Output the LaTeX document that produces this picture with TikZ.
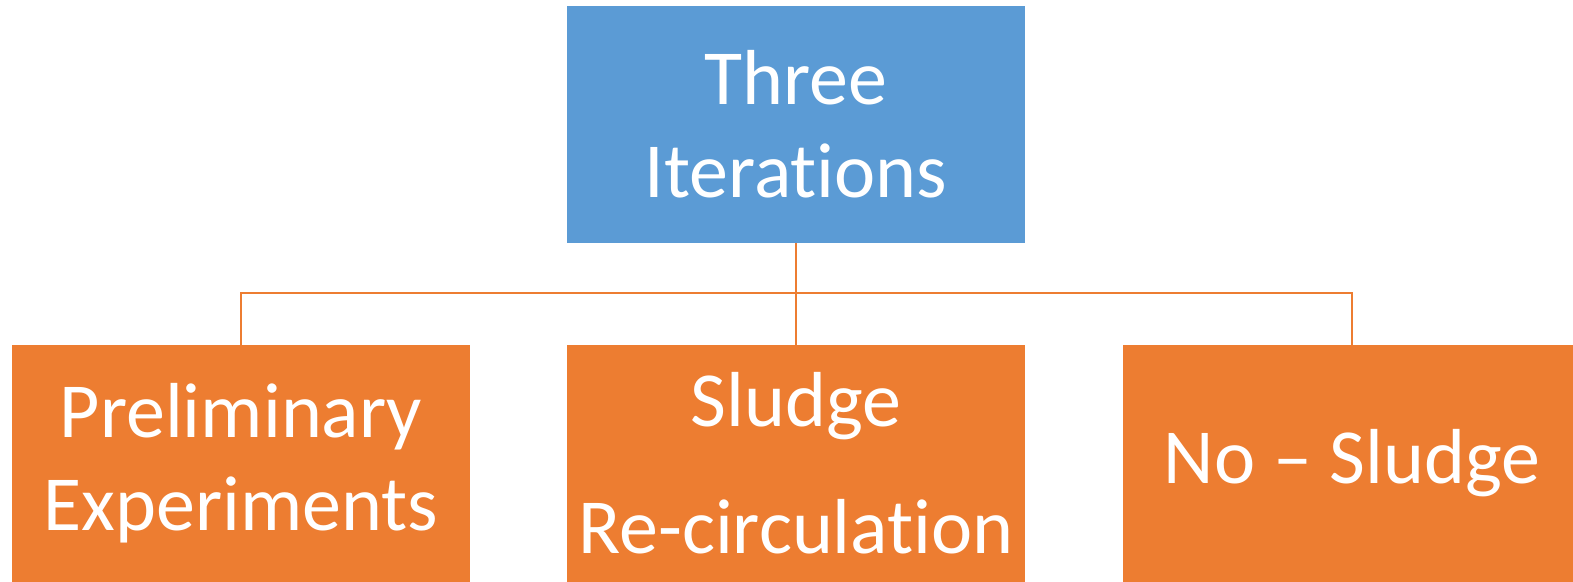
\documentclass[tikz,border=0pt]{standalone}
\usepackage{fontspec}
\setmainfont{Carlito}[RawFeature={-liga}]
\definecolor{topblue}{HTML}{5B9BD5}
\definecolor{boxorange}{HTML}{ED7D31}
\tikzset{
  box/.style={rectangle, inner sep=0pt, minimum width=458pt, minimum height=237pt,
    text=white, align=center, font=\fontsize{78}{93}\selectfont},
  topbox/.style={box, fill=topblue},
  childbox/.style={box, fill=boxorange},
  conn/.style={draw=boxorange, line width=1.3pt}
}
\begin{document}
\begin{tikzpicture}[x=1pt,y=-1pt]
\useasboundingbox (0,0) rectangle (1573,581);
\clip (0,0) rectangle (1573,581);
\node[topbox] (top) at (796,124.5) {Three\\Iterations};
\node[childbox] (left) at (241,463.5) {Preliminary\\Experiments};
\node[childbox] (mid) at (796,463.5) {Sludge\\[34pt]Re-circulation};
\node[childbox] (right) at (1352,463.5) {No – Sludge};
\coordinate (bus) at (796,293);
\draw[conn] (top.south) -- (mid.north);
\draw[conn] (left.north) -- (left.north |- bus) -- (right.north |- bus) -- (right.north);
\end{tikzpicture}
\end{document}
